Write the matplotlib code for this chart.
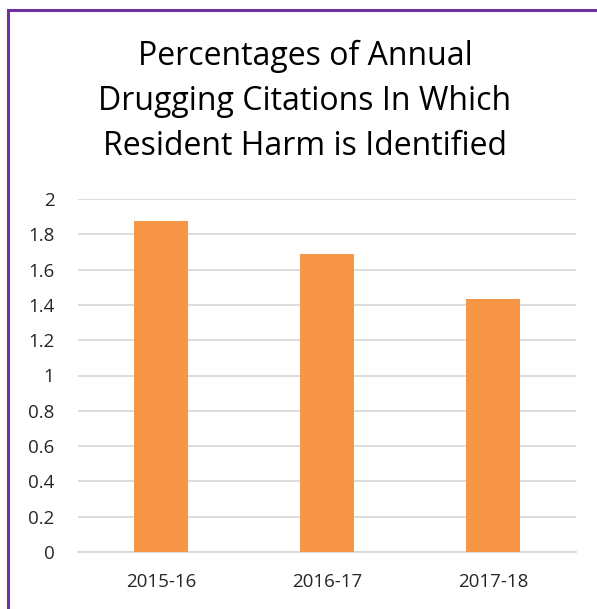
import matplotlib
matplotlib.use("Agg")
import matplotlib.pyplot as plt
from matplotlib.patches import Rectangle

categories = ["2015-16", "2016-17", "2017-18"]
values = [1.875, 1.688, 1.433]
yticks = [0, 0.2, 0.4, 0.6, 0.8, 1, 1.2, 1.4, 1.6, 1.8, 2]
ytick_labels = ["0", "0.2", "0.4", "0.6", "0.8", "1", "1.2", "1.4", "1.6", "1.8", "2"]
title = "Percentages of Annual\nDrugging Citations In Which\nResident Harm is Identified"

plt.rcParams['font.family'] = ['Open Sans', 'DejaVu Sans']

W, H = 597, 609
fig = plt.figure(figsize=(W / 100, H / 100), dpi=100)

# axes: x from 78 to 576 px, y from 552 (0) to 199 (2)
ax = fig.add_axes([78 / W, 1 - 552 / H, (576 - 78) / W, (552 - 199) / H])
x = list(range(len(categories)))
ax.bar(x, values, width=0.32, color="#f79646", zorder=3)
ax.set_xlim(-0.5, len(categories) - 0.5)
ax.set_ylim(0, 2)
ax.set_yticks(yticks)
ax.set_yticklabels(ytick_labels)
ax.set_xticks(x)
ax.set_xticklabels(categories)
ax.grid(axis="y", color="#d9d9d9", linewidth=1.3, zorder=0)
ax.tick_params(axis="both", length=0, labelsize=13.5, colors="#262626")
ax.tick_params(axis="y", pad=17)
ax.tick_params(axis="x", pad=15)
for s in ["top", "right", "left"]:
    ax.spines[s].set_visible(False)
ax.spines["bottom"].set_color("#d9d9d9")
ax.spines["bottom"].set_linewidth(1.3)

fig.text(305 / W, 1 - 101 / H, title, ha="center", va="center",
         fontsize=23, color="#000000", linespacing=1.48)

# purple border (cut at right and bottom)
fig.patches.append(Rectangle((7.5 / W, -0.05), 1.2, 1 - 10 / H + 0.05,
                             transform=fig.transFigure, fill=False,
                             edgecolor="#7030a0", linewidth=2.2))

fig.savefig("out.png", dpi=100)
